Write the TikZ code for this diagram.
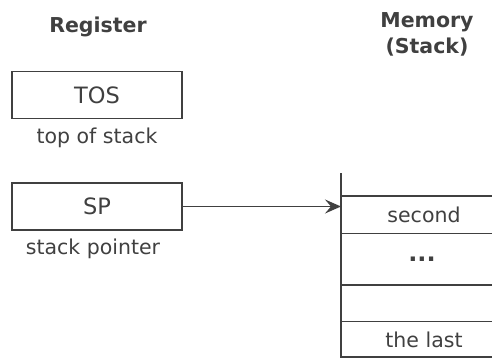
\documentclass[tikz,border=0pt]{standalone}
\usepackage{fontspec}
\setmainfont{DejaVu Sans}
\usetikzlibrary{arrows.meta}
\definecolor{ink}{HTML}{404040}
\begin{document}
\begin{tikzpicture}[x=1pt,y=-1pt,
  every node/.style={text=ink,font=\fontsize{20.5}{24}\selectfont,inner sep=0pt},
  head/.style={font=\fontsize{20.5}{26}\selectfont\bfseries,align=center},
  regbox/.style={draw=ink,line width=1.8pt,minimum width=170pt,minimum height=47pt,
    font=\fontsize{22.5}{26}\selectfont},
  edge/.style={draw=ink,line width=1.8pt},
  cell/.style={inner sep=0pt}]
  \useasboundingbox (0,0) rectangle (492,359);

  % headings
  \node[head] (hreg) at (98,27) {Register};
  \node[head] (hmem) at (427,34) {Memory\\(Stack)};

  % registers
  \node[regbox] (tos) at (97,95) {TOS};
  \node (toslbl) at (97,138) {top of stack};
  \node[regbox] (sp) at (97,206.5) {SP};
  \node (splbl) at (93,249) {stack pointer};

  % stack frame: open at the top and on the right
  \coordinate (stop) at (341,173);
  \coordinate (sbot) at (341,357);
  \coordinate (sbotr) at (492,357);
  \draw[edge,line cap=butt] (stop) -- (sbot) -- (sbotr);
  \foreach \yy/\nm in {196/l1,233.5/l2,285/l3,321.5/l4}{
    \coordinate (\nm a) at (341,\yy);
    \coordinate (\nm b) at (492,\yy);
    \draw[edge,line width=1.5pt] (\nm a) -- (\nm b);
  }

  % stack contents
  \node[cell] (second) at (424,215) {second};
  \node[cell,font=\fontsize{24}{28}\selectfont\bfseries] (dots) at (422,259) {...};
  \node[cell] (last) at (424,340) {the last};

  % pointer
  \coordinate (sptarget) at (341,206.5);
  \draw[edge,line width=1.5pt,-{Stealth[length=16pt,width=14pt,inset=6pt]}] (sp.east) -- (sptarget);
\end{tikzpicture}
\end{document}
